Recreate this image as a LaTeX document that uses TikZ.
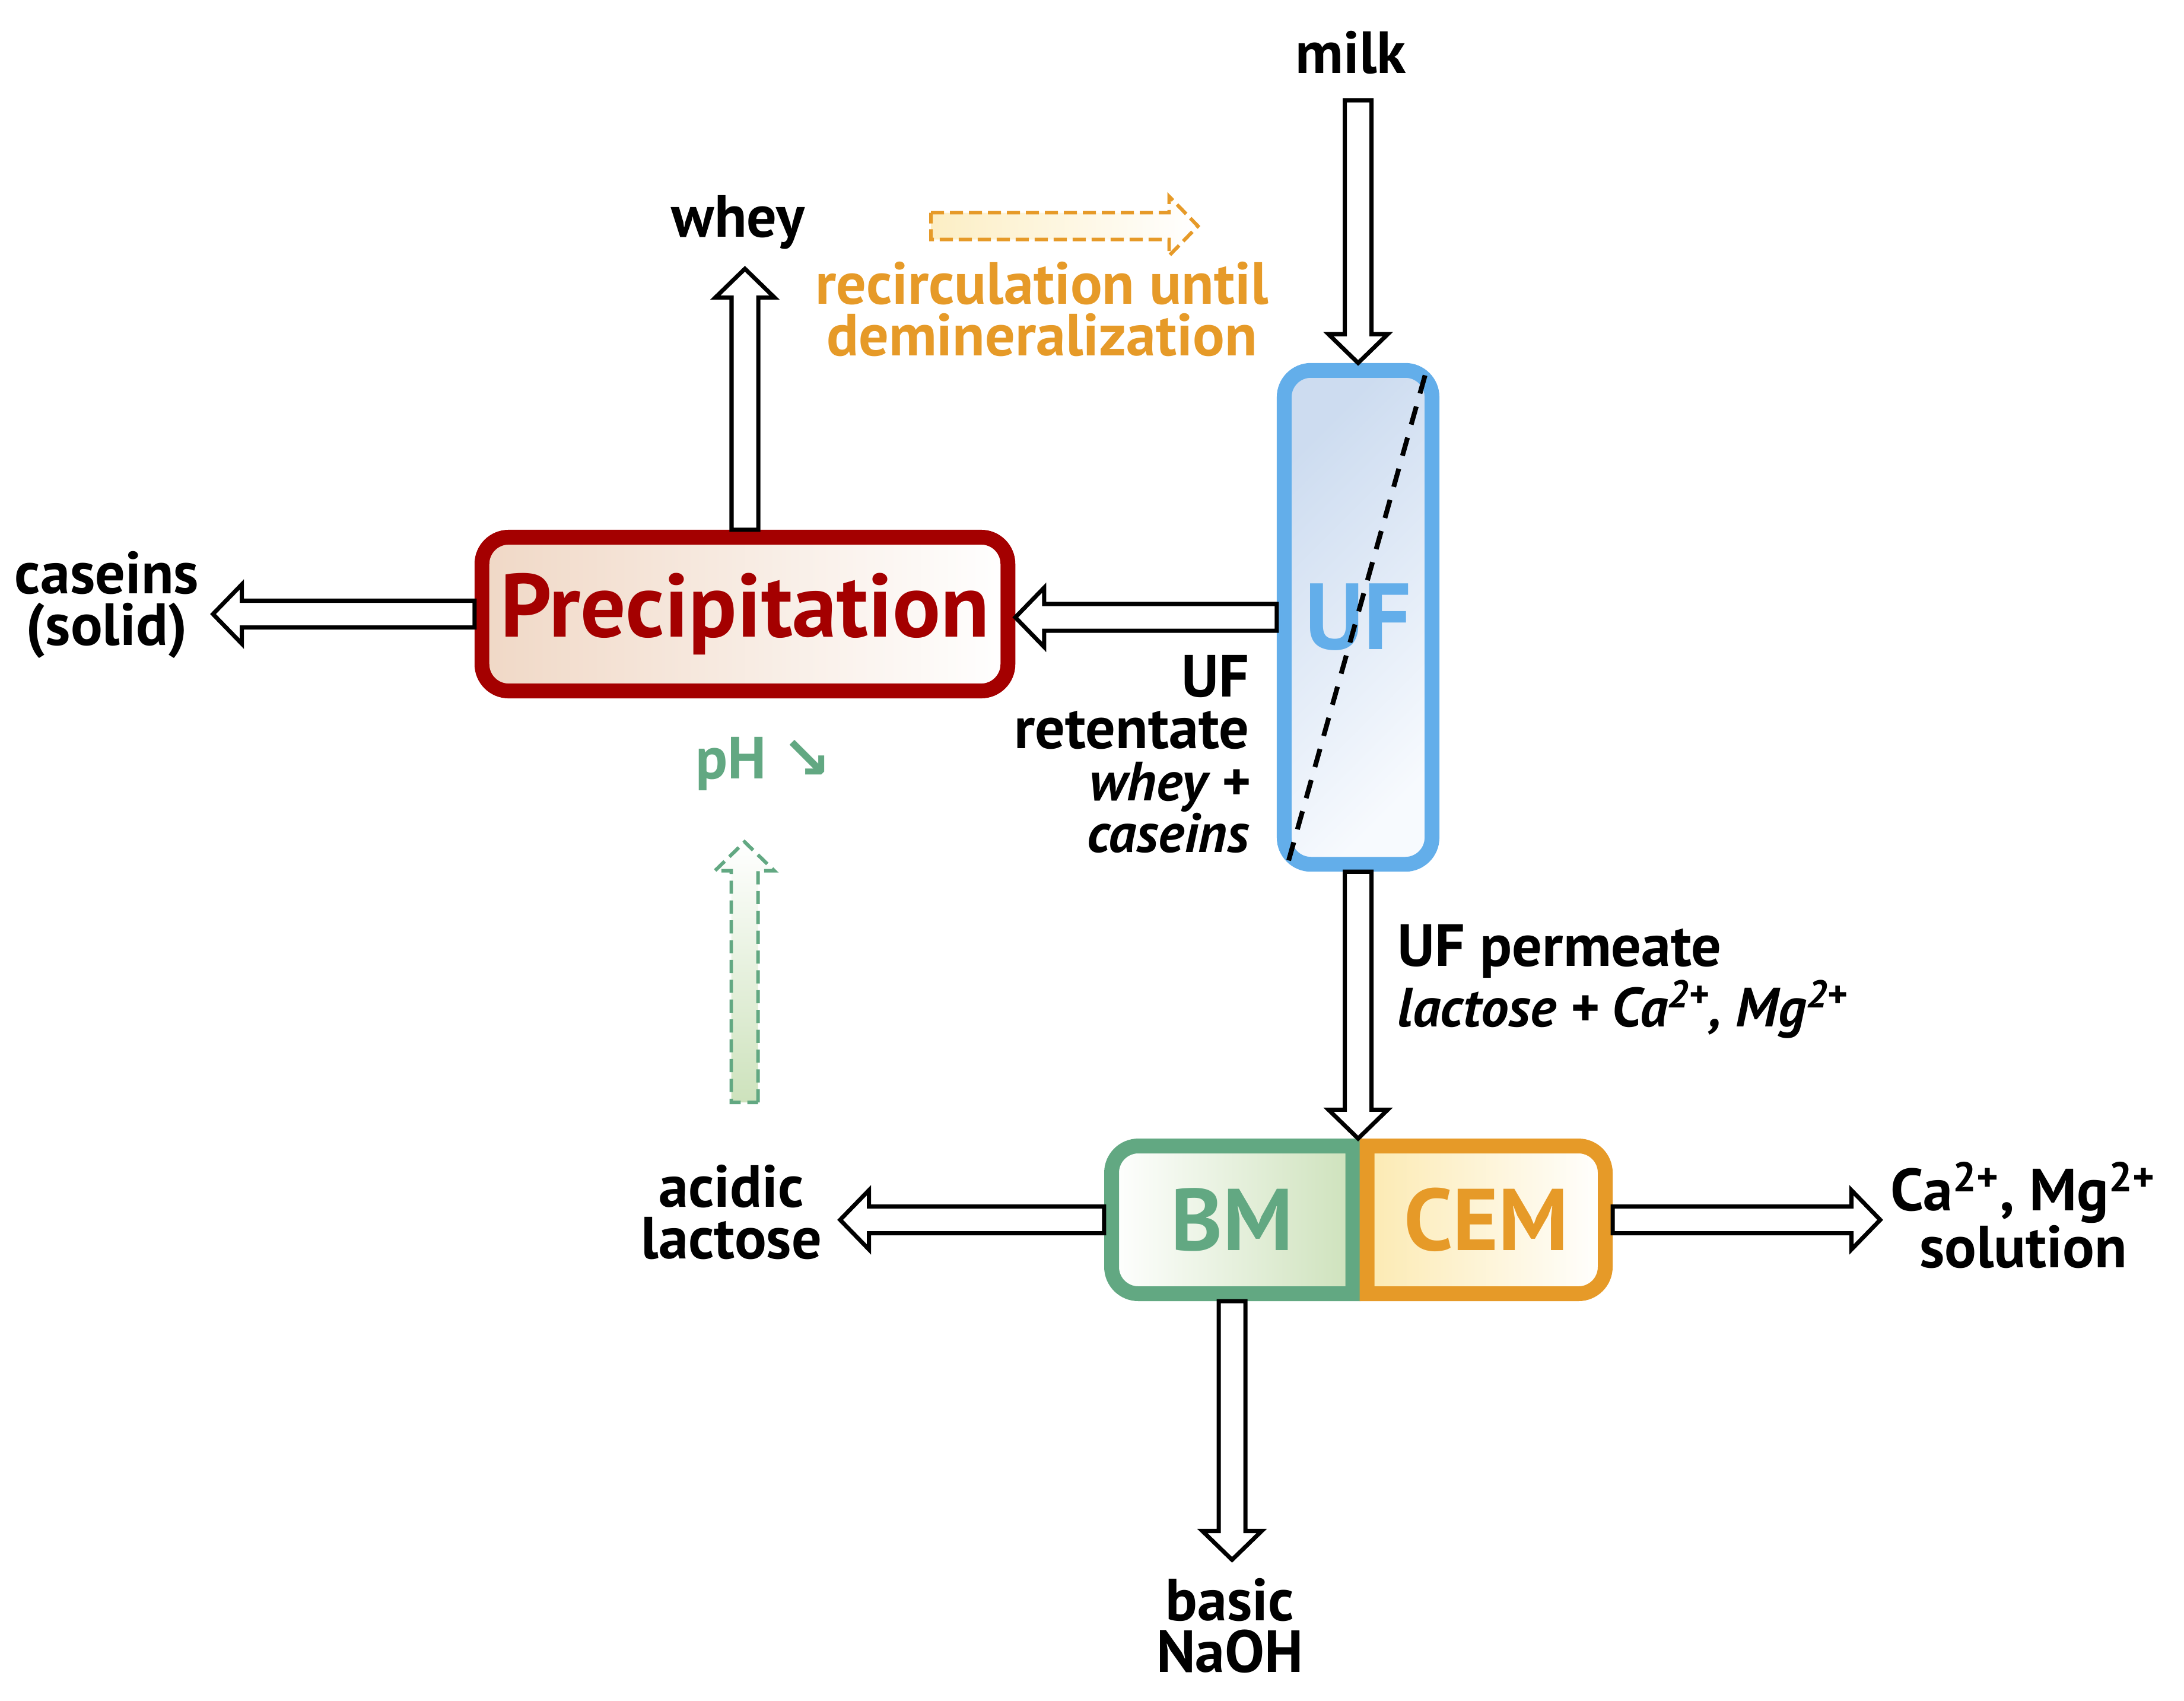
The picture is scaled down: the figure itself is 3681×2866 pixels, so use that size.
\documentclass[tikz,border=0pt]{standalone}
\usepackage{fontspec}
\setmainfont{PT Sans}
\newfontfamily\symfont{DejaVu Sans}
\usetikzlibrary{calc}
\definecolor{precred}{RGB}{164,0,0}
\definecolor{precfill}{RGB}{240,216,198}
\definecolor{ufblue}{RGB}{99,174,234}
\definecolor{uffill}{RGB}{205,220,240}
\definecolor{uffill2}{RGB}{247,250,254}
\definecolor{bmgreen}{RGB}{98,168,130}
\definecolor{bmfill}{RGB}{206,226,188}
\definecolor{cemorange}{RGB}{230,154,40}
\definecolor{cemfill}{RGB}{252,234,178}
\definecolor{recfill}{RGB}{252,238,196}
\definecolor{phfill}{RGB}{205,226,188}
\newcommand\ArS{6.4pt}
\newcommand\ArH{14.2pt}
\newcommand\ArL{13.8pt}
\newcommand\arrR[3][fatarrow]{\path[#1] let \p1=(#2), \p2=(#3) in (\x1,\y1+\ArS) -- (\x2-\ArL,\y1+\ArS) -- (\x2-\ArL,\y1+\ArH) -- (\x2,\y1) -- (\x2-\ArL,\y1-\ArH) -- (\x2-\ArL,\y1-\ArS) -- (\x1,\y1-\ArS) -- cycle;}
\newcommand\arrL[3][fatarrow]{\path[#1] let \p1=(#2), \p2=(#3) in (\x1,\y1+\ArS) -- (\x2+\ArL,\y1+\ArS) -- (\x2+\ArL,\y1+\ArH) -- (\x2,\y1) -- (\x2+\ArL,\y1-\ArH) -- (\x2+\ArL,\y1-\ArS) -- (\x1,\y1-\ArS) -- cycle;}
\newcommand\arrU[3][fatarrow]{\path[#1] let \p1=(#2), \p2=(#3) in (\x1+\ArS,\y1) -- (\x1+\ArS,\y2-\ArL) -- (\x1+\ArH,\y2-\ArL) -- (\x1,\y2) -- (\x1-\ArH,\y2-\ArL) -- (\x1-\ArS,\y2-\ArL) -- (\x1-\ArS,\y1) -- cycle;}
\newcommand\arrD[3][fatarrow]{\path[#1] let \p1=(#2), \p2=(#3) in (\x1+\ArS,\y1) -- (\x1+\ArS,\y2+\ArL) -- (\x1+\ArH,\y2+\ArL) -- (\x1,\y2) -- (\x1-\ArH,\y2+\ArL) -- (\x1-\ArS,\y2+\ArL) -- (\x1-\ArS,\y1) -- cycle;}
\begin{document}
\begin{tikzpicture}[x=0.01cm,y=-0.01cm,
  lbl/.style={font=\bfseries\fontsize{28.5}{24.8}\selectfont, align=center, inner sep=0pt},
  bigtext/.style={font=\bfseries\fontsize{42}{42}\selectfont},
  procbox/.style={rounded corners=0.45cm, line width=7.1pt, inner sep=0pt, bigtext},
  fatarrow/.style={draw=black, fill=white, line width=2pt, line join=miter},
  recircarrow/.style={draw=cemorange, line width=1.7pt, dash pattern=on 6.3pt off 2.8pt, left color=recfill, right color=white},
  pharrow/.style={draw=bmgreen, line width=1.7pt, dash pattern=on 6.3pt off 3.2pt, bottom color=phfill, top color=white},
  membrane/.style={line width=2.3pt, dash pattern=on 9pt off 6.5pt}]
\useasboundingbox (0,0) rectangle (3681,2866);

% BM / CEM stack outlines
\path[draw=bmgreen, line width=7.1pt, left color=white, right color=bmfill]
  (2280,1931.5) -- (1918.5,1931.5) arc[start angle=270,end angle=180,radius=45]
  -- (1873.5,2135.5) arc[start angle=180,end angle=90,radius=45] -- (2280,2180.5) -- cycle;
\path[draw=cemorange, line width=7.1pt, left color=cemfill, right color=white]
  (2304,1931.5) -- (2660.5,1931.5) arc[start angle=270,end angle=360,radius=45]
  -- (2705.5,2135.5) arc[start angle=0,end angle=90,radius=45] -- (2304,2180.5) -- cycle;

% process nodes
\node[procbox, draw=precred, left color=precfill, right color=white, text=precred,
  font=\bfseries\fontsize{43}{43}\selectfont,
  minimum width=8.86cm, minimum height=2.59cm] (prec) at (1255.5,1035) {Precipitation};
\node[procbox, draw=ufblue, top color=uffill, bottom color=uffill2, shading angle=45, text=ufblue,
  font=\bfseries\fontsize{45}{45}\selectfont,
  minimum width=2.49cm, minimum height=8.32cm] (uf) at (2289,1040.5) {UF};
\draw[membrane] ($(uf.south west)+(20,-19)$) -- ($(uf.north east)+(-24,20)$);
\node[bigtext, inner sep=0pt, outer sep=0pt, minimum width=4.31cm, minimum height=2.74cm, text=bmgreen] (bm) at (2076.5,2056) {BM};
\node[bigtext, inner sep=0pt, outer sep=0pt, minimum width=4.26cm, minimum height=2.74cm, text=cemorange] (cem) at (2505,2056) {CEM};

% free ends
\coordinate (milktop) at (2289,169);
\coordinate (wheytip) at (1255.5,453);
\coordinate (casetip) at (359,1035);
\coordinate (lacttip) at (1416,2056);
\coordinate (catip) at (3169,2056);
\coordinate (naohtip) at (2076.5,2629);
\coordinate (rc1) at (1569,381);
\coordinate (rc2) at (2019,381);
\coordinate (ph1) at (1255,1858);
\coordinate (ph2) at (1255,1419);

% connectors
\arrD{milktop}{uf.north}
\arrL{uf.west}{prec.east}
\arrL{prec.west}{casetip}
\arrU{prec.north}{wheytip}
\arrD{uf.south}{bm.north east}
\arrL{bm.west}{lacttip}
\arrR{cem.east}{catip}
\arrD{bm.south}{naohtip}
\arrR[recircarrow]{rc1}{rc2}
\arrU[pharrow]{ph1}{ph2}

% labels
\node[lbl] (milk) at (2277,89) {milk};
\node[lbl] (whey) at (1244,375) {whey};
\node[lbl] (caseins) at (180,1019) {caseins\\(solid)};
\node[lbl, anchor=east, align=right] (ret) at (2106,1271) {UF\\retentate\\{\itshape\fontsize{26.5}{24.8}\selectfont whey +}\\{\itshape\fontsize{26.5}{24.8}\selectfont caseins}};
\node[lbl, anchor=west, align=left] (perm) at (2355,1654) {UF permeate\\{\itshape\fontsize{26.5}{24.8}\selectfont lactose + Ca\textsuperscript{2+}, Mg\textsuperscript{2+}}};
\node[lbl] (acid) at (1233,2043) {acidic\\lactose};
\node[lbl] (casol) at (3410,2048) {Ca\textsuperscript{2+}, Mg\textsuperscript{2+}\\solution};
\node[lbl] (naoh) at (2073,2740) {basic\\NaOH};
\node[lbl, text=cemorange] (recirc) at (1756,521) {recirculation until\\demineralization};
\node[lbl, text=bmgreen] (ph) at (1287,1287) {pH {\symfont ↘}};
\end{tikzpicture}
\end{document}
